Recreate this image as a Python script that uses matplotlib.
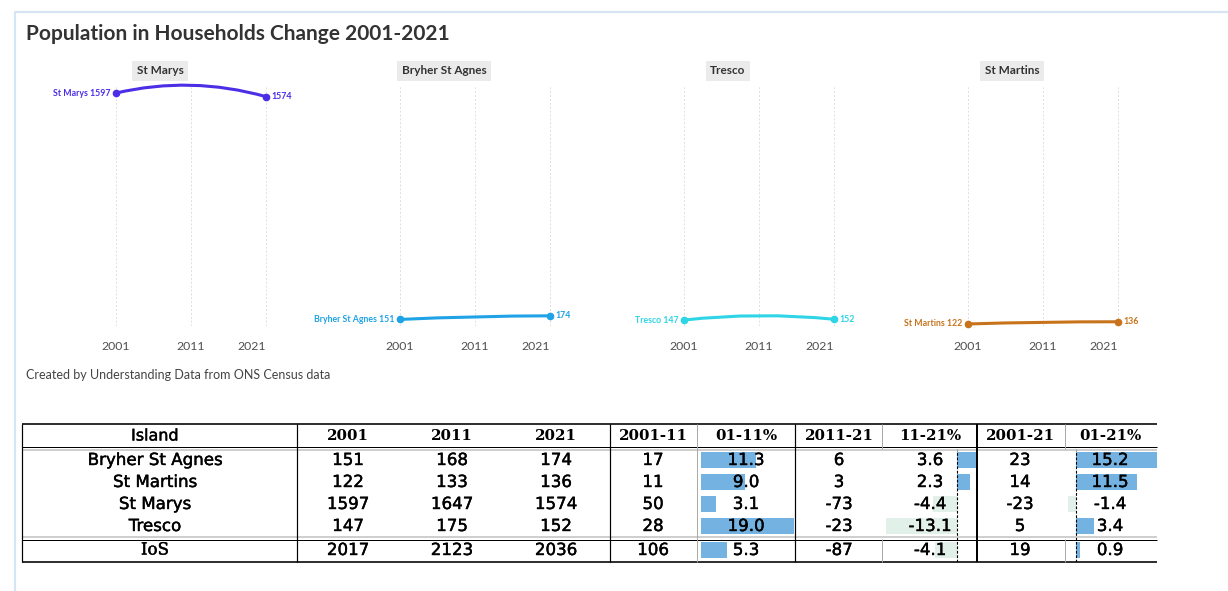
import matplotlib.pyplot as plt
import matplotlib.transforms as mtransforms
import matplotlib.patheffects as pe
from matplotlib.path import Path
from matplotlib.patches import PathPatch

# ---- data -------------------------------------------------------------
years = [2001, 2011, 2021]

panel_names = ["St Marys", "Bryher St Agnes", "Tresco", "St Martins"]
panel_colors = ["#4b2ee6", "#1fa2e6", "#2ed5e6", "#c8731c"]
st_marys = [1597, 1647, 1574]
bryher_st_agnes = [151, 168, 174]
tresco = [147, 175, 152]
st_martins = [122, 133, 136]

islands = ["Bryher St Agnes", "St Martins", "St Marys", "Tresco", "IoS"]
pop_2001 = [151, 122, 1597, 147, 2017]
pop_2011 = [168, 133, 1647, 175, 2123]
pop_2021 = [174, 136, 1574, 152, 2036]
chg_01_11 = [17, 11, 50, 28, 106]
pct_01_11 = [11.3, 9.0, 3.1, 19.0, 5.3]
chg_11_21 = [6, 3, -73, -23, -87]
pct_11_21 = [3.6, 2.3, -4.4, -13.1, -4.1]
chg_01_21 = [23, 14, -23, 5, 19]
pct_01_21 = [15.2, 11.5, -1.4, 3.4, 0.9]

headers = ["Island", "2001", "2011", "2021", "2001-11", "01-11%",
           "2011-21", "11-21%", "2001-21", "01-21%"]

W, H = 1228, 591
UI_FONT = ["Lato", "DejaVu Sans"]
POS_BAR = "#74b2e2"
NEG_BAR = "#e2f0ea"
HEAVY = [pe.withStroke(linewidth=0.3, foreground="black")]


def fig_rect(left, top, right, bottom):
    """pixel box (origin top-left) -> figure fraction rect"""
    return [left / W, 1 - bottom / H, (right - left) / W, (bottom - top) / H]


fig = plt.figure(figsize=(W / 100, H / 100), dpi=100)
fig.patch.set_facecolor("white")

# full-figure canvas in pixel coordinates for frame + table
canvas = fig.add_axes([0, 0, 1, 1])
canvas.set_xlim(0, W)
canvas.set_ylim(H, 0)
canvas.axis("off")
canvas.set_zorder(3)
canvas.patch.set_visible(False)

# light frame round the chart
canvas.plot([15, 15, W], [H, 12, 12], color="#d5e5f3", lw=1.6, solid_capstyle="butt")

fig.text(26 / W, 1 - 34 / H, "Population in Households Change 2001-2021",
         family=UI_FONT, fontsize=15, weight="bold", color="#333333", va="center")
fig.text(26 / W, 1 - 375 / H, "Created by Understanding Data from ONS Census data",
         family=UI_FONT, fontsize=9, color="#444444", va="center")

# ---- small multiples ------------------------------------------------------
panel_series = [st_marys, bryher_st_agnes, tresco, st_martins]
panel_lefts = [40, 324, 608, 892]
for left, name, vals, color in zip(panel_lefts, panel_names, panel_series, panel_colors):
    ax = fig.add_axes(fig_rect(left, 86, left + 240, 326))
    ax.set_xlim(2001 - 76 / 7.5, 2021 + 14 / 7.5)
    ax.set_ylim(109, 1642)
    for s in ax.spines.values():
        s.set_visible(False)
    ax.set_yticks([])
    ax.set_xticks(years)
    ax.tick_params(length=0, labelbottom=False)
    ax.grid(axis="x", color="#dedede", ls=(0, (2, 2)), lw=0.7)
    ax.set_axisbelow(True)

    # smooth curve through the three census points
    p0, p1, p2 = zip(years, vals)
    ctrl = (2 * p1[0] - (p0[0] + p2[0]) / 2, 2 * p1[1] - (p0[1] + p2[1]) / 2)
    path = Path([p0, ctrl, p2], [Path.MOVETO, Path.CURVE3, Path.CURVE3])
    ax.add_patch(PathPatch(path, fill=False, edgecolor=color, lw=2.2,
                           capstyle="round", clip_on=False))
    ax.plot([years[0], years[-1]], [vals[0], vals[-1]], "o", color=color,
            ms=4.5, clip_on=False)
    ax.annotate(f"{name} {vals[0]}", (years[0], vals[0]), xytext=(-4, 0),
                textcoords="offset points", ha="right", va="center",
                fontsize=6.3, weight="bold", color=color, family=UI_FONT)
    ax.annotate(f"{vals[-1]}", (years[-1], vals[-1]), xytext=(4, 0),
                textcoords="offset points", ha="left", va="center",
                fontsize=6.3, weight="bold", color=color, family=UI_FONT)

    trans = mtransforms.blended_transform_factory(ax.transData, ax.transAxes)
    for i, yr in enumerate(years):
        ax.text(yr, -20 / 240, str(yr), transform=trans, va="center",
                ha="right" if i == len(years) - 1 else "center",
                fontsize=8.8, color="#505050", family=UI_FONT)

    ax.text(0.5, 1 + 15 / 240, name, transform=ax.transAxes, ha="center",
            va="center", fontsize=8.5, weight="bold", color="#333333",
            family=UI_FONT,
            bbox=dict(boxstyle="square,pad=0.4", fc="#ebebeb", ec="none"))

# ---- table --------------------------------------------------------------
col_x = [155, 348, 452, 556, 653, 746, 839, 930, 1020, 1110]
row_y = [460, 482, 504, 526, 550]
head_y = 436
T_LEFT, T_RIGHT, T_TOP, T_BOT = 22, 1157, 424, 562

BLACK = "#000000"
GRAY = "#aaaaaa"
px = 0.72
canvas.hlines([T_TOP, T_BOT], T_LEFT, T_RIGHT, color=BLACK, lw=1.6 * px)
canvas.hlines(447, T_LEFT, T_RIGHT, color=BLACK, lw=1 * px)
canvas.hlines(449.5, T_LEFT, T_RIGHT, color="#c4c4c4", lw=1.6 * px)
canvas.hlines(537, T_LEFT, T_RIGHT, color="#c4c4c4", lw=1.6 * px)
canvas.hlines(539.5, T_LEFT, T_RIGHT, color=BLACK, lw=1 * px)
canvas.vlines([T_LEFT, 297, 610, 795], T_TOP, T_BOT, color=BLACK, lw=1.2 * px)
canvas.vlines(977, T_TOP, T_BOT, color=BLACK, lw=2 * px)
canvas.vlines(697, T_TOP, T_BOT, color=GRAY, lw=1 * px)
canvas.vlines([882, 1065], T_TOP, 449, color=GRAY, lw=1 * px)
canvas.vlines([882, 1065], 539, T_BOT, color=GRAY, lw=1 * px)

# header
for i, (x, h) in enumerate(zip(col_x, headers)):
    if i == 0:
        canvas.text(x, head_y, h, ha="center", va="center", fontsize=11.5,
                    family="DejaVu Sans", color=BLACK, path_effects=HEAVY)
    else:
        canvas.text(x, head_y, h, ha="center", va="center", fontsize=10.8,
                    family="DejaVu Serif", weight="bold", color=BLACK)

# body
columns = [islands, pop_2001, pop_2011, pop_2021, chg_01_11, pct_01_11,
           chg_11_21, pct_11_21, chg_01_21, pct_01_21]
pct_cols = {5, 7, 9}
for ci, (x, col) in enumerate(zip(col_x, columns)):
    for ri, (y, v) in enumerate(zip(row_y, col)):
        txt = f"{v:.1f}" if ci in pct_cols else str(v)
        fam = "DejaVu Serif" if (ci == 0 and ri == len(islands) - 1) else "DejaVu Sans"
        canvas.text(x, y, txt, ha="center", va="center", fontsize=12,
                    family=fam, color=BLACK, path_effects=HEAVY)

# in-cell bars, each column on its own value scale
bar_cols = [(pct_01_11, 701, 794, False),
            (pct_11_21, 886, 977, True),
            (pct_01_21, 1068, 1157, True)]
for vals, left, right, zero_line in bar_cols:
    bax = fig.add_axes(fig_rect(left, 449, right, T_BOT))
    bax.set_zorder(1)
    bax.axis("off")
    bax.set_xlim(min(0, min(vals)), max(vals))
    bax.set_ylim(T_BOT, 449)
    colors = [POS_BAR if v >= 0 else NEG_BAR for v in vals]
    bax.barh(row_y, vals, height=16, color=colors, edgecolor="none")
    if zero_line:
        bax.axvline(0, color=BLACK, ls=(0, (2.5, 1.5)), lw=0.8)

fig.savefig("out.png", dpi=100)
